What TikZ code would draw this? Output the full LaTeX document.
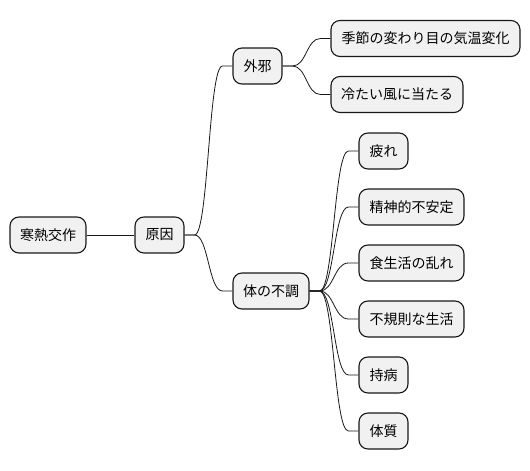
\documentclass[tikz,border=0pt]{standalone}
\usepackage{fontspec}
\setmainfont{Noto Sans CJK JP}
\usetikzlibrary{calc}
\definecolor{boxfill}{HTML}{F1F1F1}
\definecolor{boxline}{HTML}{181818}
\tikzset{
  mmbox/.style={draw=boxline, fill=boxfill, line width=1.1pt, rounded corners=9pt,
    minimum height=36pt, inner sep=0pt, font=\fontsize{14pt}{16pt}\selectfont, text=black},
  mm/.style={draw=boxline, line width=0.8pt, to path={let \p1=(\tikztostart), \p2=(\tikztotarget) in
    -- (\x1+10pt,\y1) .. controls ({0.5*\x1+0.5*\x2},\y1) and ({0.5*\x1+0.5*\x2},\y2) .. (\x2-10pt,\y2) -- (\tikztotarget)}}
}
\begin{document}
\begin{tikzpicture}[x=1pt,y=-1pt]
\useasboundingbox (0,0) rectangle (530,471);
\node[mmbox, minimum width=76pt] (root) at (48,235) {寒熱交作};
\node[mmbox, minimum width=49pt] (gen) at (159.5,235) {原因};
\node[mmbox, minimum width=49pt] (gaija) at (257.5,66) {外邪};
\node[mmbox, minimum width=189pt] (kisetsu) at (425.5,38.5) {季節の変わり目の気温変化};
\node[mmbox, minimum width=132pt] (kaze) at (397,94.5) {冷たい風に当たる};
\node[mmbox, minimum width=76pt] (karada) at (271,291) {体の不調};
\node[mmbox, minimum width=49pt] (tsukare) at (383.5,151) {疲れ};
\node[mmbox, minimum width=105pt] (seishin) at (411.5,207) {精神的不安定};
\node[mmbox, minimum width=105pt] (shoku) at (411.5,263) {食生活の乱れ};
\node[mmbox, minimum width=105pt] (fukisoku) at (411.5,319) {不規則な生活};
\node[mmbox, minimum width=49pt] (jibyo) at (383.5,375) {持病};
\node[mmbox, minimum width=49pt] (taishitsu) at (383.5,431) {体質};
\draw[draw=boxline, line width=0.8pt] (root.east) -- (gen.west);
\draw[mm] (gen.east) to (gaija.west);
\draw[mm] (gen.east) to (karada.west);
\draw[mm] (gaija.east) to (kisetsu.west);
\draw[mm] (gaija.east) to (kaze.west);
\draw[mm] (karada.east) to (tsukare.west);
\draw[mm] (karada.east) to (seishin.west);
\draw[mm] (karada.east) to (shoku.west);
\draw[mm] (karada.east) to (fukisoku.west);
\draw[mm] (karada.east) to (jibyo.west);
\draw[mm] (karada.east) to (taishitsu.west);
\end{tikzpicture}
\end{document}
